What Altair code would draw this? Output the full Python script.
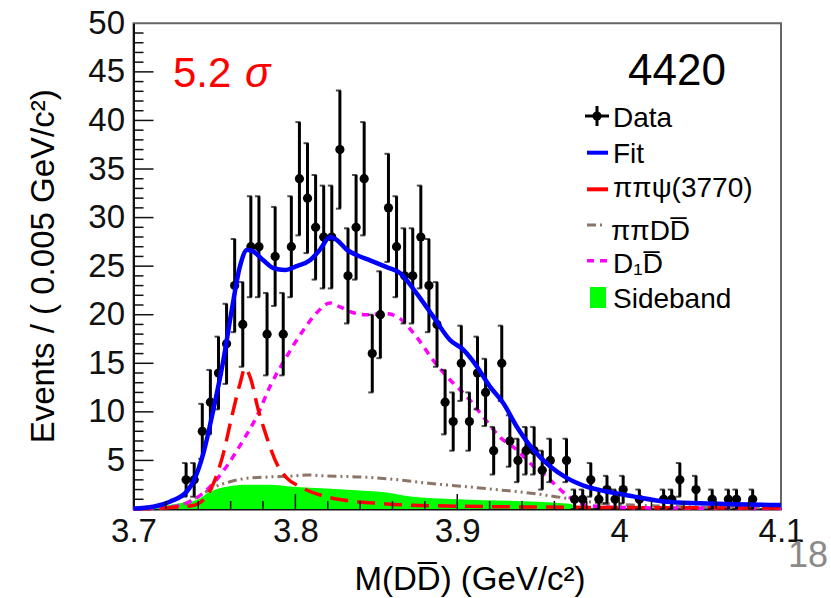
import altair as alt
import pandas as pd
import numpy as np

# ---------------- data ----------------
data_mass = [3.7325, 3.7375, 3.7425, 3.7475, 3.7525, 3.7575, 3.7625, 3.7675, 3.7725, 3.7775,
             3.7825, 3.7875, 3.7925, 3.7975, 3.8025, 3.8075, 3.8125, 3.8175, 3.8225, 3.8275,
             3.8325, 3.8375, 3.8425, 3.8475, 3.8525, 3.8575, 3.8625, 3.8675, 3.8725, 3.8775,
             3.8825, 3.8875, 3.8925, 3.8975, 3.9025, 3.9075, 3.9125, 3.9175, 3.9225, 3.9275,
             3.9325, 3.9375, 3.9425, 3.9475, 3.9525, 3.9575, 3.9675, 3.9725, 3.9775, 3.9825,
             3.9875, 3.9925, 3.9975, 4.0025, 4.0125, 4.0275, 4.0325, 4.0375, 4.0475, 4.0575,
             4.0675, 4.0725, 4.0825]
data_count = [3, 3, 8, 11, 14, 17, 23, 19, 27, 27,
              18, 26, 18, 27, 34, 32, 29, 28, 28, 37,
              24, 29, 34, 16, 20, 31, 27, 24, 24, 28,
              23, 19, 11, 9, 15, 9, 14, 12, 6, 15,
              7, 5, 6, 6, 4, 5, 5, 1, 1, 3,
              1, 2, 1, 2, 1, 1, 1, 3, 2, 1,
              1, 1, 1]

fit_mass = [3.700, 3.7122, 3.7225, 3.7329, 3.7369, 3.7431, 3.7493, 3.7555, 3.7607, 3.7658,
            3.7703, 3.7740, 3.7802, 3.7864, 3.7936, 3.8008, 3.8090, 3.8152, 3.8214, 3.8255,
            3.8317, 3.8399, 3.8461, 3.8564, 3.8646, 3.8749, 3.8852, 3.8955, 3.9037, 3.9120,
            3.9202, 3.9284, 3.9367, 3.9470, 3.9573, 3.9676, 3.9799, 3.9923, 4.0087, 4.0293,
            4.0500, 4.0705, 4.1000]
fit_val = [0.05, 0.24, 0.75, 1.8, 2.8, 5.7, 10.2, 15.3, 20.5, 25.0,
           26.7, 26.5, 25.6, 24.8, 24.6, 25.0, 25.6, 26.7, 28.0, 27.7,
           26.7, 26.0, 25.6, 24.9, 24.3, 22.2, 19.8, 17.4, 16.4, 14.7,
           12.6, 10.9, 8.5, 6.1, 4.4, 3.2, 2.3, 1.8, 1.3, 0.75,
           0.6, 0.5, 0.4]

psi_mass = [3.700, 3.735, 3.7431, 3.7493, 3.7555, 3.7607, 3.7658, 3.7689, 3.7720, 3.7771,
            3.7823, 3.7884, 3.7946, 3.8028, 3.8152, 3.8296, 3.8502, 3.8708, 3.9500, 4.1000]
psi_val = [0.0, 0.3, 0.93, 2.6, 5.7, 9.5, 12.9, 14.5, 13.6, 10.2,
           7.4, 4.7, 3.2, 2.3, 1.44, 0.93, 0.6, 0.4, 0.2, 0.1]

pipi_mass = [3.700, 3.7287, 3.7390, 3.7493, 3.7596, 3.7699, 3.7843, 3.7987, 3.8070, 3.8193,
             3.8399, 3.8605, 3.8852, 3.9058, 3.9264, 3.9470, 3.9676, 3.9881, 4.0087, 4.0500, 4.1000]
pipi_val = [0.0, 0.4, 1.2, 2.2, 2.8, 3.16, 3.3, 3.4, 3.5, 3.4,
            3.3, 3.06, 2.6, 2.3, 1.96, 1.6, 1.1, 0.6, 0.4, 0.2, 0.1]

d1_mass = [3.700, 3.7246, 3.7369, 3.7473, 3.7576, 3.7678, 3.7761, 3.7843, 3.7946, 3.8049,
           3.8132, 3.8214, 3.8276, 3.8358, 3.8440, 3.8564, 3.8646, 3.8749, 3.8852, 3.8955,
           3.9058, 3.9160, 3.9264, 3.9367, 3.9470, 3.9573, 3.9676, 3.9738, 3.9800, 4.0000, 4.1000]
d1_val = [0.0, 0.24, 0.93, 2.3, 4.4, 7.1, 9.5, 12.6, 15.7, 18.4,
          20.2, 21.2, 20.8, 20.2, 20.0, 20.1, 19.6, 17.7, 15.3, 13.3,
          11.6, 9.5, 7.4, 6.1, 4.4, 3.0, 1.44, 0.75, 0.4, 0.15, 0.05]

side_mass = [3.705, 3.7164, 3.7287, 3.7390, 3.7473, 3.7576, 3.7699, 3.7843, 3.7987, 3.8193,
             3.8399, 3.8605, 3.8700, 3.9000, 3.9400, 3.9650, 3.9710, 3.9720]
side_val = [0.0, 0.24, 0.6, 0.93, 1.8, 2.3, 2.5, 2.5, 2.3, 2.1,
            1.9, 1.6, 1.3, 1.0, 0.8, 0.6, 0.5, 0.0]

y_major = [5, 10, 15, 20, 25, 30, 35, 40, 45]
y_minor = [v for v in range(1, 50) if v % 5 != 0]
x_major = [3.8, 3.9, 4.0]
x_minor = [3.72, 3.74, 3.76, 3.78, 3.82, 3.84, 3.86, 3.88, 3.92, 3.94, 3.96, 3.98,
           4.02, 4.04, 4.06, 4.08]

# ---------------- layout ----------------
W, H = 647.5, 485.7
FONT = "Liberation Sans"
GREEN = "#00ff00"
BROWN = "#8c7566"

xs = alt.Scale(domain=[3.7, 4.1], nice=False, zero=False)
ys = alt.Scale(domain=[0, 50], nice=False, zero=True)

pts = pd.DataFrame({"m": data_mass, "n": data_count})
pts["lo"] = pts["n"] - np.sqrt(pts["n"])
pts["hi"] = pts["n"] + np.sqrt(pts["n"])

x_axis = alt.Axis(values=[3.7, 3.8, 3.9, 4.0, 4.1], format=".2~f", ticks=False, grid=False,
                  domainColor="#111", domainWidth=2, labelFont=FONT, labelFontSize=33,
                  labelColor="#111", labelPadding=6, title=None, labelFlush=False)
y_axis = alt.Axis(values=y_major + [50], ticks=False, grid=False,
                  domainColor="#111", domainWidth=2, labelFont=FONT, labelFontSize=33,
                  labelColor="#111", labelPadding=9, title=None, labelFlush=False)

base_x = alt.X("m:Q", scale=xs, axis=x_axis)
base_y = alt.Y("v:Q", scale=ys, axis=y_axis)

side = alt.Chart(pd.DataFrame({"m": side_mass, "v": side_val})).mark_area(
    color=GREEN, opacity=1, interpolate="monotone").encode(x=base_x, y=base_y)

pipi = alt.Chart(pd.DataFrame({"m": pipi_mass, "v": pipi_val})).mark_line(
    color=BROWN, strokeWidth=3, strokeDash=[9, 4, 2, 4, 2, 4], interpolate="monotone"
).encode(x="m:Q", y="v:Q")

d1 = alt.Chart(pd.DataFrame({"m": d1_mass, "v": d1_val})).mark_line(
    color="#ff00ff", strokeWidth=3.5, strokeDash=[7, 6], interpolate="monotone"
).encode(x="m:Q", y="v:Q")

psi = alt.Chart(pd.DataFrame({"m": psi_mass, "v": psi_val})).mark_line(
    color="#ff0000", strokeWidth=3.5, strokeDash=[18, 9], interpolate="monotone"
).encode(x="m:Q", y="v:Q")

bars = alt.Chart(pts).mark_rule(color="black", strokeWidth=3).encode(
    x="m:Q", y="lo:Q", y2="hi:Q")
cap_hi = alt.Chart(pts).mark_tick(color="black", thickness=2, size=5, orient="horizontal").encode(
    x="m:Q", y="hi:Q", xOffset=alt.value(-1.5))
cap_lo = alt.Chart(pts).mark_tick(color="black", thickness=2, size=5, orient="horizontal").encode(
    x="m:Q", y="lo:Q", xOffset=alt.value(-1.5))
dots = alt.Chart(pts).mark_circle(color="black", size=85, opacity=1).encode(
    x="m:Q", y="n:Q")

fit = alt.Chart(pd.DataFrame({"m": fit_mass, "v": fit_val})).mark_line(
    color="#0000ff", strokeWidth=4.5, interpolate="monotone"
).encode(x="m:Q", y="v:Q")

# ticks inside the frame
ytk_major = alt.Chart(pd.DataFrame({"v": y_major})).mark_rule(color="#111", strokeWidth=1.5).encode(
    y="v:Q", x=alt.value(0), x2=alt.value(20))
ytk_minor = alt.Chart(pd.DataFrame({"v": y_minor})).mark_rule(color="#111", strokeWidth=1.5).encode(
    y="v:Q", x=alt.value(0), x2=alt.value(10))
xtk_major = alt.Chart(pd.DataFrame({"m": x_major})).mark_rule(color="#111", strokeWidth=1.5).encode(
    x="m:Q", y=alt.value(H), y2=alt.value(H - 15))
xtk_minor = alt.Chart(pd.DataFrame({"m": x_minor})).mark_rule(color="#111", strokeWidth=1.5).encode(
    x="m:Q", y=alt.value(H), y2=alt.value(H - 8))

one = pd.DataFrame({"a": [0]})


def txt(text, x, y, size, color="black", font=FONT, align="left", angle=None, style=None,
        baseline="alphabetic"):
    kw = dict(text=text, fontSize=size, color=color, font=font, align=align, baseline=baseline)
    if angle is not None:
        kw["angle"] = angle
    if style is not None:
        kw["fontStyle"] = style
    return alt.Chart(one).mark_text(**kw).encode(x=alt.value(x), y=alt.value(y))


def seg(x1, x2, y1, y2, color, width, dash=None):
    kw = dict(color=color, strokeWidth=width)
    if dash is not None:
        kw["strokeDash"] = dash
    return alt.Chart(one).mark_rule(**kw).encode(
        x=alt.value(x1), x2=alt.value(x2), y=alt.value(y1), y2=alt.value(y2))


LX1, LX2, TX = 453.5, 474.5, 479.5
legend = [
    seg(451.5, 475.5, 92.7, 92.7, "black", 3),
    seg(463.5, 463.5, 82.7, 102.7, "black", 3),
    alt.Chart(one).mark_circle(color="black", size=85, opacity=1).encode(
        x=alt.value(463.5), y=alt.value(92.7)),
    txt("Data", TX, 103.7, 28),
    seg(LX1, LX2, 129.4, 129.4, "#0000ff", 4),
    txt("Fit", TX, 139.7, 28),
    seg(LX1, LX2, 166.0, 166.0, "#ff0000", 4),
    txt("ππψ(3770)", TX, 173.4, 28),
    seg(LX1, LX2 - 3, 201.7, 201.7, BROWN, 3, [9, 4, 2, 4, 2, 4]),
    txt("ππDD\u0305", TX - 2, 216.7, 28),
    seg(LX1, LX2, 237.4, 237.4, "#ff00ff", 3.5, [7, 6]),
    txt("D\u2081D\u0305", TX, 250.0, 28),
    alt.Chart(one).mark_rect(color=GREEN).encode(
        x=alt.value(456.5), x2=alt.value(472.5), y=alt.value(263.7), y2=alt.value(284.7)),
    txt("Sideband", TX, 284.7, 28),
]

annots = [
    txt("5.2", 39.5, 63.7, 42, color="#ff0000"),
    txt("σ", 111.5, 63.7, 42, color="#ff0000", style="italic"),
    txt("4420", 494.5, 61.7, 44),
    txt("Events / ( 0.005 GeV/c²)", -79.5, 243.0, 33, angle=270, align="center"),
    txt("M(DD\u0305) (GeV/c²)", 336.5, 566.7, 33, align="center"),
    txt("18", 654.5, 543.7, 36, color="#8a8a8a"),
]

chart = alt.layer(
    side, pipi, d1, psi, bars, cap_hi, cap_lo, dots, fit,
    ytk_major, ytk_minor, xtk_major, xtk_minor,
    *legend, *annots
).properties(
    width=W, height=H, autosize="none",
    padding={"left": 133.5, "top": 23.3, "right": 50, "bottom": 89},
    background="white",
).configure_view(stroke="#666", strokeWidth=2)

chart.save("out.html", embed_options={"renderer": "svg", "actions": False})
